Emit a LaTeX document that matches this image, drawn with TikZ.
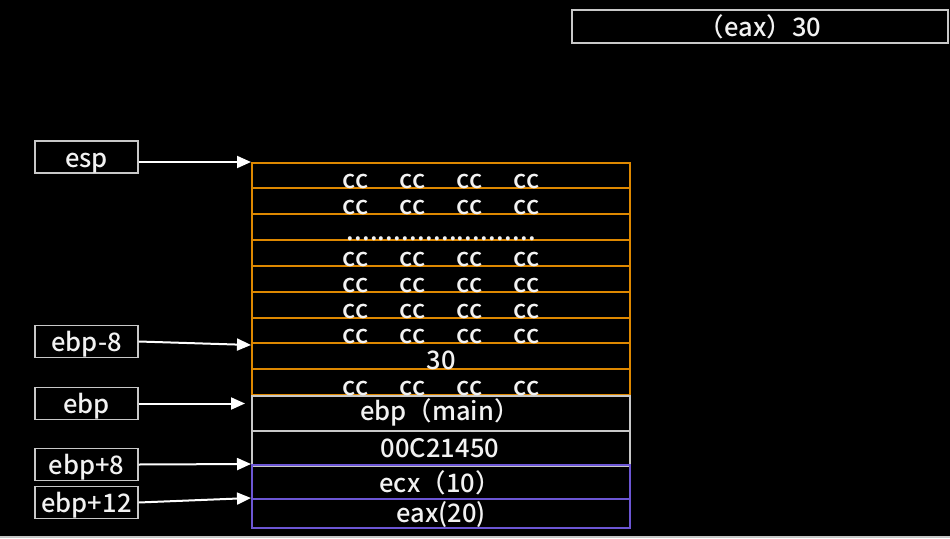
\documentclass[tikz,border=0pt]{standalone}
\usepackage{fontspec}
\setmainfont{Noto Sans CJK SC Medium}
\usetikzlibrary{arrows.meta}
\definecolor{stkorange}{RGB}{222,136,0}
\definecolor{stkgray}{RGB}{200,200,200}
\definecolor{stkpurple}{RGB}{108,86,212}
\definecolor{txtwhite}{RGB}{242,242,242}
\newcommand{\ccrow}{\makebox[57pt]{cc}\makebox[57pt]{cc}\makebox[57pt]{cc}\makebox[57pt]{cc}}
\newcommand{\dotrow}{\foreach \k in {1,...,24}{\makebox[7.9pt]{.}}}
\begin{document}
\begin{tikzpicture}[x=1pt,y=-1pt,
  every node/.style={font=\fontsize{25.5}{30}\selectfont, text=txtwhite},
  rowbox/.style={draw, line width=2pt, minimum width=378pt, inner sep=0pt, anchor=north west},
  orangerow/.style={rowbox, draw=stkorange},
  grayrow/.style={rowbox, draw=stkgray},
  purplerow/.style={rowbox, draw=stkpurple},
  rowtxt/.style={anchor=base, inner sep=0pt},
  lbl/.style={draw=stkgray, line width=1.3pt, minimum width=103pt, minimum height=32pt, inner sep=0pt, text height=22pt, text depth=2pt},
  arr/.style={draw=white, line width=2pt, -{Triangle[length=14pt,width=12pt]}}]
\fill[black] (0,0) rectangle (950,538);
\useasboundingbox (0,0) rectangle (950,538);
\fill[stkgray] (0,536) rectangle (950,538);

% top box
\node[lbl, minimum width=376pt, minimum height=33pt] (eaxbox) at (760,26.5) {（eax）30};

% orange rows
\foreach \n/\t/\b in {1/162/187, 2/187/213, 3/213/239, 4/239/265, 5/265/291, 6/291/317, 7/317/342, 8/342/368, 9/368/394}
  \node[orangerow, minimum height={(\b-\t)*1pt}] (r\n) at (251,\t) {};
% gray rows
\node[grayrow, minimum height=35pt] (m1) at (251,394.5) {};
\node[grayrow, minimum height=35pt] (m2) at (251,429.5) {};
% purple rows
\node[purplerow, minimum height=34pt] (p1) at (251,464) {};
\node[purplerow, minimum height=29pt] (p2) at (251,498) {};

% row texts
\foreach \n in {1,2,4,5,6,7,9}
  \node[rowtxt] (t\n) at ([yshift=1pt]r\n.south) {\ccrow};
\node[rowtxt] (t3) at ([yshift=1pt]r3.south) {\dotrow};
\node[rowtxt] (t8) at ([yshift=1pt]r8.south) {30};
\node[rowtxt] (tm1) at (440,420) {ebp（main）};
\node[rowtxt] (tm2) at (440,457) {00C21450};
\node[rowtxt] (tp1) at (440,492) {ecx（10）};
\node[rowtxt] (tp2) at (441,522) {eax(20)};

% labels
\node[lbl] (esp) at (86.5,157) {esp};
\node[lbl] (ebpm8) at (86.5,341.5) {ebp-8};
\node[lbl] (ebp) at (86.5,403.5) {ebp};
\node[lbl] (ebpp8) at (86.5,464.5) {ebp+8};
\node[lbl] (ebpp12) at (86.5,502.5) {ebp+12};

% arrows
\coordinate (ebpend) at ([xshift=-6pt]m1.west);
\draw[arr] (esp.east |- r1.north west) -- (r1.north west);
\draw[arr] (ebpm8.east) -- ([yshift=-3pt]r8.north west);
\draw[arr] (ebp.east) -- (ebp.east -| ebpend);
\draw[arr] (ebpp8.east) -- (p1.north west);
\draw[arr] (ebpp12.east) -- (p2.north west);
\end{tikzpicture}
\end{document}
